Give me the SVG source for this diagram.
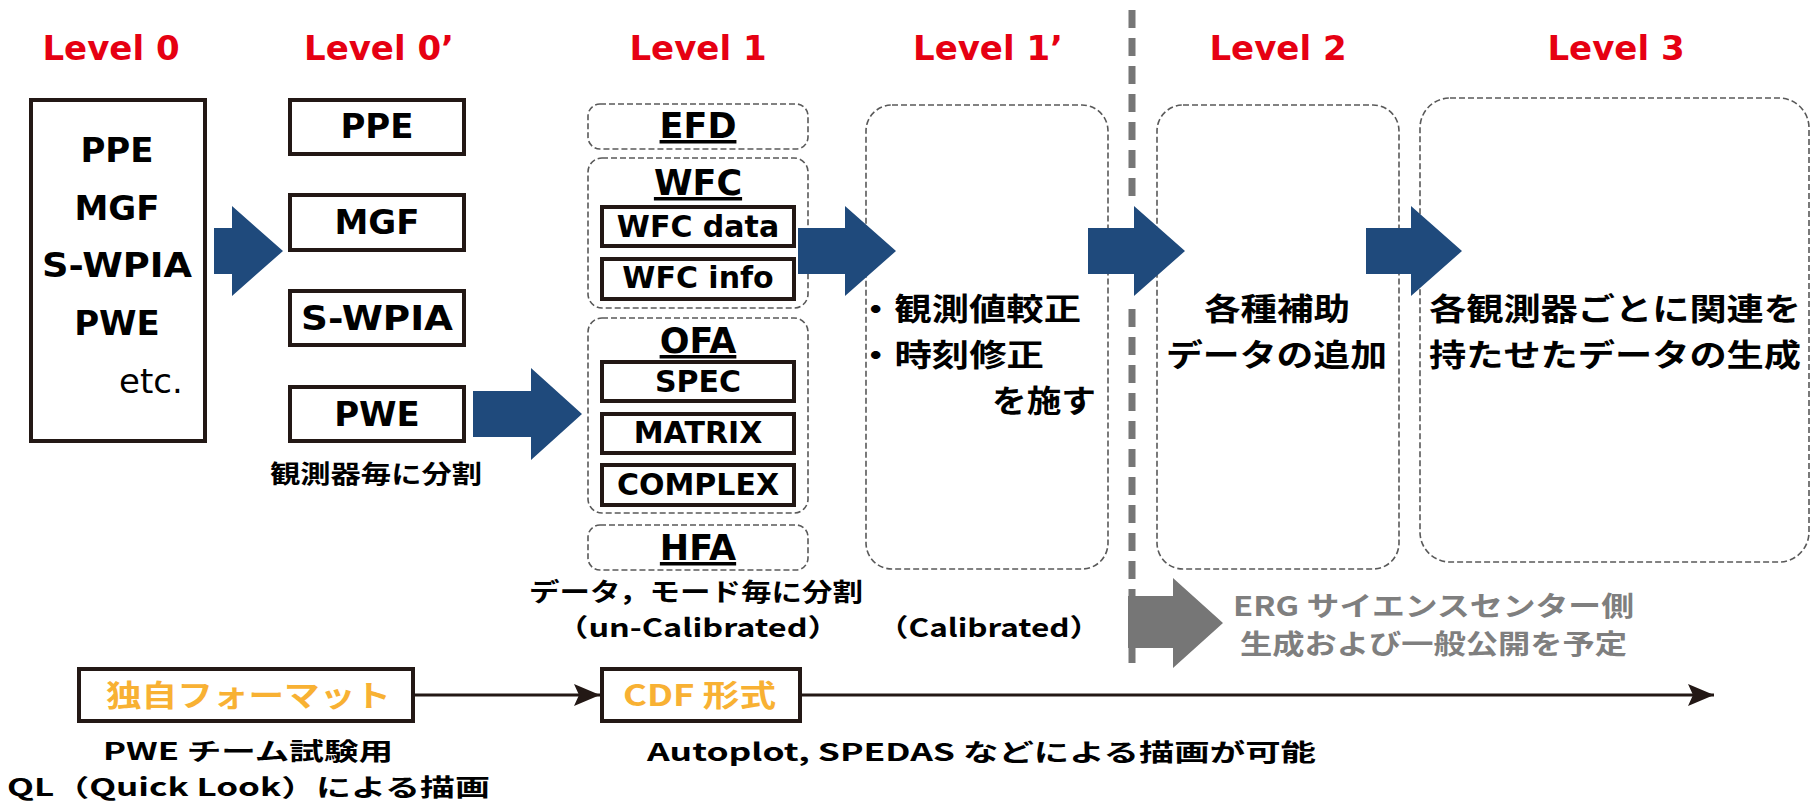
<svg xmlns="http://www.w3.org/2000/svg" width="1812" height="805" viewBox="0 0 1812 805">
<defs>
<style>
.lv{font-family:"DejaVu Sans","Noto Sans CJK JP",sans-serif;font-weight:bold;font-size:34px;fill:#E60012;text-anchor:middle}
.solid{fill:#fff;stroke:#231815;stroke-width:4}
.dash{fill:none;stroke:#595959;stroke-width:1.6;stroke-dasharray:6 3}
.lt{font-family:"DejaVu Sans",sans-serif;font-weight:bold;font-size:34px;fill:#000;text-anchor:middle}
.etc{font-family:"DejaVu Sans",sans-serif;font-size:34px;fill:#000}
.hd{font-family:"DejaVu Sans",sans-serif;font-weight:bold;font-size:35px;fill:#000;text-anchor:middle;text-decoration:underline}
.sb{font-family:"DejaVu Sans",sans-serif;font-weight:bold;font-size:30px;fill:#000;text-anchor:middle}
.jp{font-family:"Noto Sans CJK JP",sans-serif;font-weight:bold;fill:#000}
.big{font-size:31px}
.sm{font-size:25px}
.bt{font-size:24px}
.or{font-size:30px;fill:#F8B133}
.gr{font-size:27px;fill:#7F7F7F}
.navy{fill:#1F4A7C}
.conn{stroke:#231815;stroke-width:3;fill:none}
</style>
<marker id="ah" markerUnits="userSpaceOnUse" markerWidth="26" markerHeight="22" viewBox="0 0 26 22" refX="26" refY="11" orient="auto">
<path d="M0,0 L26,11 L0,22 L5,11 z" fill="#231815"/>
</marker>
</defs>
<rect width="1812" height="805" fill="#fff"/>

<g id="level-labels">
<text class="lv" x="111" y="60">Level 0</text>
<text class="lv" x="379" y="60">Level 0’</text>
<text class="lv" x="698" y="60">Level 1</text>
<text class="lv" x="988" y="60">Level 1’</text>
<text class="lv" x="1278" y="60">Level 2</text>
<text class="lv" x="1616" y="60">Level 3</text>
</g>

<g id="divider">
<line x1="1132" y1="10" x2="1132" y2="198" stroke="#767676" stroke-width="7" stroke-dasharray="18 10"/>
<line x1="1132" y1="309" x2="1132" y2="665" stroke="#767676" stroke-width="7" stroke-dasharray="18 10"/>
</g>

<g id="level0">
<rect class="solid" x="31" y="100" width="174" height="341"/>
<text class="lt" x="117" y="162">PPE</text>
<text class="lt" x="117" y="220">MGF</text>
<text class="lt" x="117" y="277" textLength="150" lengthAdjust="spacingAndGlyphs">S-WPIA</text>
<text class="lt" x="117" y="335">PWE</text>
<text class="etc" x="119" y="393">etc.</text>
</g>

<g id="level0p-ppe"><rect class="solid" x="290" y="100" width="174" height="54"/><text class="lt" x="377" y="138">PPE</text></g>
<g id="level0p-mgf"><rect class="solid" x="290" y="195" width="174" height="55"/><text class="lt" x="377" y="234">MGF</text></g>
<g id="level0p-swpia"><rect class="solid" x="290" y="291" width="174" height="54"/><text class="lt" x="377" y="330" textLength="152" lengthAdjust="spacingAndGlyphs">S-WPIA</text></g>
<g id="level0p-pwe"><rect class="solid" x="290" y="387" width="174" height="54"/><text class="lt" x="377" y="426">PWE</text></g>
<g id="level0p-note"><text class="jp sm" x="270" y="483" textLength="212" lengthAdjust="spacingAndGlyphs">観測器毎に分割</text></g>

<g id="efd">
<rect class="dash" x="588" y="104" width="220" height="45" rx="12"/>
<text class="hd" x="698" y="138">EFD</text>
</g>
<g id="wfc">
<rect class="dash" x="588" y="158" width="220" height="150" rx="14"/>
<text class="hd" x="698" y="195">WFC</text>
<rect class="solid" x="602" y="207" width="192" height="39"/>
<text class="sb" x="698" y="237">WFC data</text>
<rect class="solid" x="602" y="259" width="192" height="40"/>
<text class="sb" x="698" y="288">WFC info</text>
</g>
<g id="ofa">
<rect class="dash" x="588" y="318" width="220" height="195" rx="14"/>
<text class="hd" x="698" y="353">OFA</text>
<rect class="solid" x="602" y="362" width="192" height="39"/>
<text class="sb" x="698" y="392">SPEC</text>
<rect class="solid" x="602" y="414" width="192" height="39"/>
<text class="sb" x="698" y="443">MATRIX</text>
<rect class="solid" x="602" y="465" width="192" height="40"/>
<text class="sb" x="698" y="495">COMPLEX</text>
</g>
<g id="hfa">
<rect class="dash" x="588" y="525" width="220" height="45" rx="12"/>
<text class="hd" x="698" y="560">HFA</text>
</g>
<g id="level1-note">
<text class="jp sm" x="529" y="601" textLength="334" lengthAdjust="spacingAndGlyphs">データ，モード毎に分割</text>
<text class="jp sm" x="556" y="637" textLength="284" lengthAdjust="spacingAndGlyphs">（un-Calibrated）</text>
</g>

<g id="level1p">
<rect class="dash" x="866" y="105" width="242" height="464" rx="26"/>
<text class="jp big" x="857" y="320" textLength="224" lengthAdjust="spacingAndGlyphs">・観測値較正</text>
<text class="jp big" x="857" y="366" textLength="187" lengthAdjust="spacingAndGlyphs">・時刻修正</text>
<text class="jp big" x="992" y="412" textLength="104" lengthAdjust="spacingAndGlyphs">を施す</text>
<text class="jp sm" x="877" y="637" textLength="224" lengthAdjust="spacingAndGlyphs">（Calibrated）</text>
</g>

<g id="level2">
<rect class="dash" x="1157" y="105" width="242" height="464" rx="26"/>
<text class="jp big" x="1204" y="320" textLength="146" lengthAdjust="spacingAndGlyphs">各種補助</text>
<text class="jp big" x="1166" y="366" textLength="221" lengthAdjust="spacingAndGlyphs">データの追加</text>
</g>

<g id="level3">
<rect class="dash" x="1420" y="98" width="389" height="464" rx="30"/>
<text class="jp big" x="1429" y="320" textLength="372" lengthAdjust="spacingAndGlyphs">各観測器ごとに関連を</text>
<text class="jp big" x="1429" y="366" textLength="372" lengthAdjust="spacingAndGlyphs">持たせたデータの生成</text>
</g>

<g id="erg-note">
<text class="jp gr" x="1233" y="616" textLength="401" lengthAdjust="spacingAndGlyphs">ERG サイエンスセンター側</text>
<text class="jp gr" x="1240" y="654" textLength="387" lengthAdjust="spacingAndGlyphs">生成および一般公開を予定</text>
</g>

<g id="fmt-own">
<rect class="solid" x="79" y="669" width="334" height="52"/>
<text class="jp or" x="106" y="706" textLength="285" lengthAdjust="spacingAndGlyphs">独自フォーマット</text>
<text class="jp bt" x="103" y="760" textLength="290" lengthAdjust="spacingAndGlyphs">PWE チーム試験用</text>
<text class="jp bt" x="7" y="796" textLength="483" lengthAdjust="spacingAndGlyphs">QL（Quick Look）による描画</text>
</g>

<g id="fmt-cdf">
<rect class="solid" x="602" y="669" width="198" height="52"/>
<text class="jp or" x="623" y="706" textLength="153" lengthAdjust="spacingAndGlyphs">CDF 形式</text>
<text class="jp bt" x="647" y="761" textLength="669" lengthAdjust="spacingAndGlyphs">Autoplot, SPEDAS などによる描画が可能</text>
</g>

<g id="connectors">
<polygon class="navy" points="214,228 232,228 232,206 283,251 232,296 232,274 214,274"/>
<polygon class="navy" points="473,391 531,391 531,368 582,414 531,460 531,437 473,437"/>
<polygon class="navy" points="798,228 845,228 845,206 896,251 845,296 845,274 798,274"/>
<polygon class="navy" points="1088,228 1134,228 1134,206 1185,251 1134,296 1134,274 1088,274"/>
<polygon class="navy" points="1366,228 1411,228 1411,206 1462,251 1411,296 1411,274 1366,274"/>
<polygon fill="#767676" points="1128,596 1173,596 1173,578 1223,623 1173,668 1173,648 1128,648"/>
<line class="conn" x1="415" y1="695" x2="600" y2="695" marker-end="url(#ah)"/>
<line class="conn" x1="802" y1="695" x2="1714" y2="695" marker-end="url(#ah)"/>
</g>
</svg>
